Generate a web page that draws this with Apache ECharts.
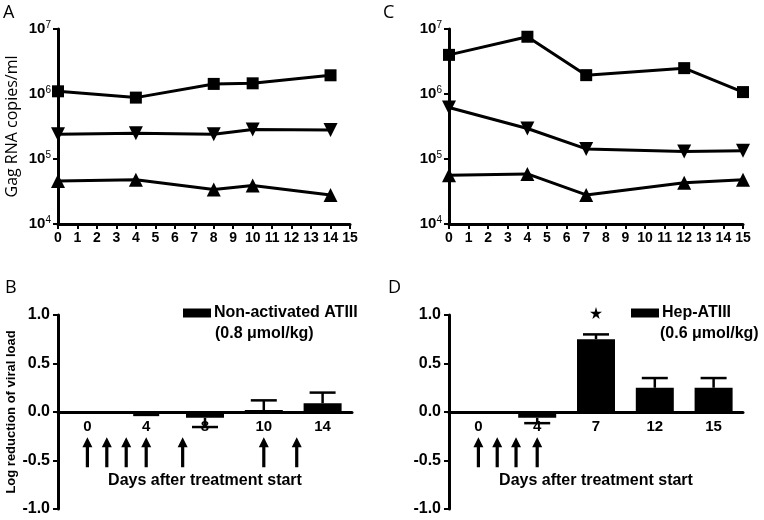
<!DOCTYPE html>
<html>
<head>
<meta charset="utf-8">
<script src="https://cdn.jsdelivr.net/npm/echarts@6/dist/echarts.min.js"></script>
<style>
  html, body { margin: 0; padding: 0; background: #fff; }
  #chart { width: 764px; height: 520px; }
</style>
</head>
<body>
<div id="chart"></div>
<script>
// panel A / C : viral load (log scale)
const daysA = [0, 4, 8, 10, 14]
const squareA = [1.1e6, 8.8e5, 1.43e6, 1.46e6, 1.94e6]
const downA = [2.4e5, 2.5e5, 2.4e5, 2.85e5, 2.8e5]
const upA = [4.6e4, 4.8e4, 3.4e4, 3.9e4, 2.8e4]

const daysC = [0, 4, 7, 12, 15]
const squareC = [4.0e6, 7.6e6, 1.95e6, 2.5e6, 1.07e6]
const downC = [6.2e5, 2.95e5, 1.43e5, 1.3e5, 1.34e5]
const upC = [5.6e4, 5.9e4, 2.8e4, 4.3e4, 4.8e4]

// panel B / D : log reduction (mean, sem)
const catsB = ['0', '4', '8', '10', '14']
const meanB = [0, -0.01, -0.06, 0.02, 0.09]
const semB = [0, 0.02, 0.095, 0.10, 0.11]

const catsD = ['0', '4', '7', '12', '15']
const meanD = [0, -0.06, 0.75, 0.25, 0.25]
const semD = [0, 0.055, 0.05, 0.10, 0.10]

// treatment arrows, in category-slot units
const arrowsB = [0, 0.33, 0.66, 1.0, 1.62, 3.0, 3.56]
const arrowsD = [0, 0.32, 0.64, 1.0]
const arrowLevel = -0.415
const starD = [[2, 1.02]]

const black = '#000'
const fontArial = 'Liberation Sans, Arial, sans-serif'
const fontCal = 'Open Sans, sans-serif'

const pairs = (xs, ys) => xs.map((x, i) => [x, ys[i]])
const slots = (ys) => ys.map((y, i) => [i, y])
const errData = (m, s) => m.map((v, i) => [i, v, v < 0 ? v - s[i] : v + s[i]])

const arrowPath = 'path://M5,0L10,10L6.6,10L6.6,30L3.4,30L3.4,10L0,10Z'
const starPath = 'path://M50,0L61,35L98,35L68,57L79,91L50,70L21,91L32,57L2,35L39,35Z'

const lineAxisX = (grid) => ({
  gridIndex: grid, type: 'value', min: 0, max: 15, interval: 1,
  axisLine: { lineStyle: { color: black, width: 3 } },
  axisTick: { length: 5, lineStyle: { color: black, width: 2 } },
  axisLabel: { color: black, fontFamily: fontArial, fontWeight: 'bold', fontSize: 14, margin: 7 },
  splitLine: { show: false }
})

const logAxisY = (grid) => ({
  gridIndex: grid, type: 'log', logBase: 10, min: 1e4, max: 1e7,
  axisLine: { onZero: false, lineStyle: { color: black, width: 3 } },
  axisTick: { length: 5, lineStyle: { color: black, width: 2 } },
  axisLabel: {
    margin: 7,
    formatter: v => '{b|10}{s|' + Math.round(Math.log10(v)) + '}',
    rich: {
      b: { color: black, fontFamily: fontArial, fontWeight: 'bold', fontSize: 15, lineHeight: 18 },
      s: { color: black, fontFamily: fontArial, fontSize: 10, verticalAlign: 'top', lineHeight: 18 }
    }
  },
  splitLine: { show: false }
})

// category labels live on a helper grid whose bottom edge is the zero line
const catAxisX = (grid, cats) => ({
  gridIndex: grid, type: 'category', data: cats, position: 'bottom',
  axisLine: { onZero: false, lineStyle: { color: black, width: 3 } },
  axisTick: { alignWithLabel: true, length: 6, lineStyle: { color: black, width: 2 } },
  axisLabel: { color: black, fontFamily: fontArial, fontWeight: 'bold', fontSize: 15, margin: 7 },
  name: 'Days after treatment start', nameLocation: 'middle', nameGap: 61,
  nameTextStyle: { color: black, fontFamily: fontArial, fontWeight: 'bold', fontSize: 16 }
})

const slotAxisX = (grid) => ({ gridIndex: grid, type: 'value', min: -0.5, max: 4.5, show: false })
const blankAxisY = (grid) => ({ gridIndex: grid, type: 'value', min: 0, max: 1, show: false })

const barAxisY = (grid) => ({
  gridIndex: grid, type: 'value', min: -1, max: 1, interval: 0.5,
  axisLine: { show: true, onZero: false, lineStyle: { color: black, width: 3 } },
  axisTick: { show: true, length: 5, lineStyle: { color: black, width: 2 } },
  axisLabel: { color: black, fontFamily: fontArial, fontWeight: 'bold', fontSize: 16, margin: 8, formatter: v => v.toFixed(1) },
  splitLine: { show: false }
})

const lineSeries = (xi, xs, ys, symbol, rotate) => ({
  type: 'line', xAxisIndex: xi, yAxisIndex: xi, data: pairs(xs, ys),
  symbol: symbol, symbolSize: symbol === 'rect' ? 12 : 14, symbolRotate: rotate || 0,
  showSymbol: true, itemStyle: { color: black }, lineStyle: { color: black, width: 3 }, z: 3
})

const barSeries = (name, xi, yi, m) => ({
  name: name, type: 'bar', xAxisIndex: xi, yAxisIndex: yi, data: slots(m),
  barWidth: 38, itemStyle: { color: black }, z: 3
})

const errSeries = (xi, yi, m, s) => ({
  type: 'custom', xAxisIndex: xi, yAxisIndex: yi, data: errData(m, s), z: 4,
  encode: { x: 0, y: [1, 2] },
  renderItem (params, api) {
    const i = api.value(0)
    const v = api.value(1)
    const e = api.value(2)
    if (v === e) return
    const p0 = api.coord([i, v])
    const p1 = api.coord([i, e])
    const st = { stroke: black, lineWidth: 2.5 }
    return {
      type: 'group',
      children: [
        { type: 'line', shape: { x1: p0[0], y1: p0[1], x2: p1[0], y2: p1[1] }, style: st },
        { type: 'line', shape: { x1: p1[0] - 13, y1: p1[1], x2: p1[0] + 13, y2: p1[1] }, style: st }
      ]
    }
  }
})

const arrowSeries = (xi, yi, pos) => ({
  type: 'scatter', xAxisIndex: xi, yAxisIndex: yi,
  data: pos.map(p => [p, arrowLevel]),
  symbol: arrowPath, symbolSize: [10, 30], itemStyle: { color: black, opacity: 1 }, z: 5
})

const legendOf = (name, left) => ({
  data: [name], left: left, top: 305, orient: 'horizontal', padding: 0,
  icon: 'rect', itemWidth: 28, itemHeight: 9, itemGap: 0,
  textStyle: { color: black, fontFamily: fontArial, fontWeight: 'bold', fontSize: 16, padding: [0, 0, 0, -2] }
})

const letter = (t, x, y) => ({
  type: 'text', left: x, top: y,
  style: { text: t, fill: black, font: '18px ' + fontCal }
})
const subLine = (t, x, y) => ({
  type: 'text', left: x, top: y,
  style: { text: t, fill: black, font: 'bold 16px ' + fontArial }
})

const chart = echarts.init(document.getElementById('chart'))
chart.setOption({
  animation: false,
  backgroundColor: '#fff',
  grid: [
    { left: 58, top: 29, width: 292, height: 195, outerBoundsMode: 'none' },
    { left: 449, top: 29, width: 294, height: 195, outerBoundsMode: 'none' },
    { left: 58, top: 315, width: 294, height: 194, outerBoundsMode: 'none' },
    { left: 449, top: 315, width: 294, height: 194, outerBoundsMode: 'none' },
    { left: 58, top: 315, width: 294, height: 97, outerBoundsMode: 'none' },
    { left: 449, top: 315, width: 294, height: 97, outerBoundsMode: 'none' }
  ],
  xAxis: [
    lineAxisX(0), lineAxisX(1),
    slotAxisX(2), slotAxisX(3),
    catAxisX(4, catsB), catAxisX(5, catsD)
  ],
  yAxis: [
    Object.assign(logAxisY(0), {
      name: 'Gag RNA copies/ml', nameLocation: 'middle', nameGap: 38,
      nameTextStyle: { color: black, fontFamily: fontCal, fontSize: 16 }
    }),
    logAxisY(1),
    Object.assign(barAxisY(2), {
      name: 'Log reduction of viral load', nameLocation: 'middle', nameGap: 40,
      nameTextStyle: { color: black, fontFamily: fontArial, fontWeight: 'bold', fontSize: 13 }
    }),
    barAxisY(3),
    blankAxisY(4), blankAxisY(5)
  ],
  legend: [legendOf('Non-activated ATIII', 183), legendOf('Hep-ATIII', 631)],
  graphic: [
    letter('A', 3, 4), letter('C', 383, 4), letter('B', 5, 279), letter('D', 388, 279),
    subLine('(0.8 μmol/kg)', 215, 326), subLine('(0.6 μmol/kg)', 660, 326)
  ],
  series: [
    lineSeries(0, daysA, squareA, 'rect'),
    lineSeries(0, daysA, downA, 'triangle', 180),
    lineSeries(0, daysA, upA, 'triangle'),
    lineSeries(1, daysC, squareC, 'rect'),
    lineSeries(1, daysC, downC, 'triangle', 180),
    lineSeries(1, daysC, upC, 'triangle'),
    barSeries('Non-activated ATIII', 2, 2, meanB),
    barSeries('Hep-ATIII', 3, 3, meanD),
    errSeries(2, 2, meanB, semB),
    errSeries(3, 3, meanD, semD),
    arrowSeries(2, 2, arrowsB),
    arrowSeries(3, 3, arrowsD),
    {
      type: 'scatter', xAxisIndex: 3, yAxisIndex: 3, data: starD, clip: false,
      symbol: starPath, symbolSize: 12, itemStyle: { color: black, opacity: 1 }
    }
  ]
})
</script>
</body>
</html>
